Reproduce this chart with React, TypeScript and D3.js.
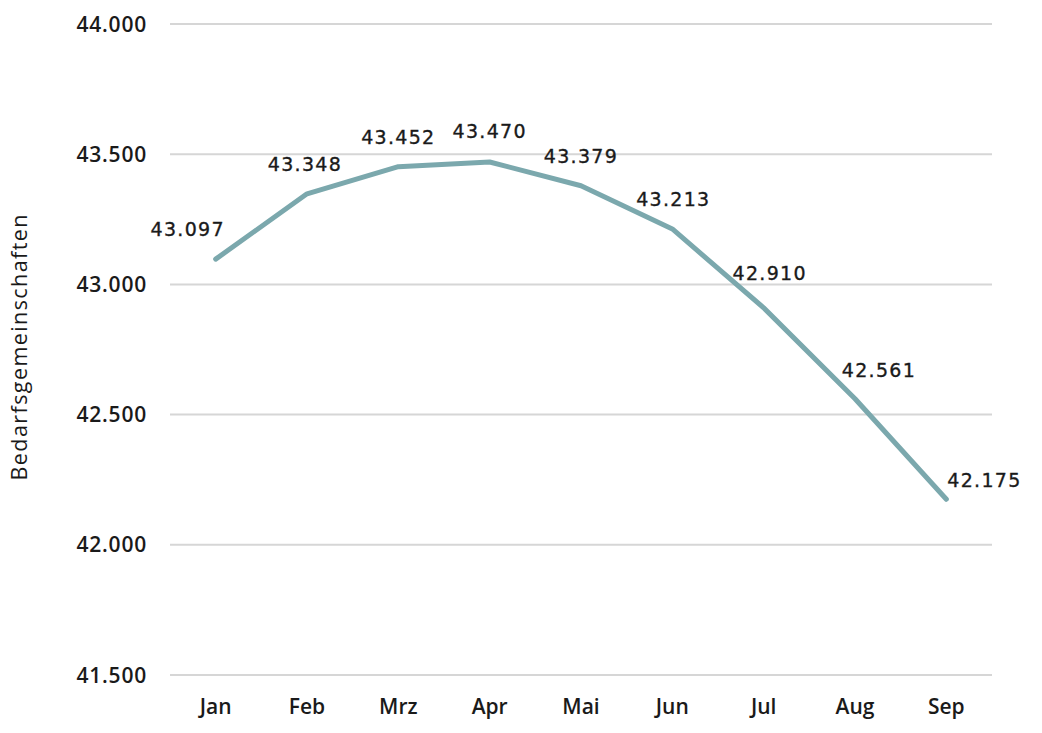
import React from "react";
import * as d3 from "d3";

// Monthly count of Bedarfsgemeinschaften
const months = ["Jan", "Feb", "Mrz", "Apr", "Mai", "Jun", "Jul", "Aug", "Sep"];
const values = [43097, 43348, 43452, 43470, 43379, 43213, 42910, 42561, 42175];
const yTicks = [41500, 42000, 42500, 43000, 43500, 44000];
const yTitle = "Bedarfsgemeinschaften";

// Placement of each value label relative to its point
const labelPlacement: { dx: number; dy: number; anchor: string }[] = [
  { dx: -28, dy: -23, anchor: "middle" },
  { dx: -2, dy: -23, anchor: "middle" },
  { dx: 0, dy: -23, anchor: "middle" },
  { dx: 0, dy: -24, anchor: "middle" },
  { dx: 0, dy: -23, anchor: "middle" },
  { dx: 1, dy: -23, anchor: "middle" },
  { dx: 6, dy: -28, anchor: "middle" },
  { dx: 24, dy: -22, anchor: "middle" },
  { dx: 1, dy: -12, anchor: "start" },
];

const W = 1042;
const H = 733;
const margin = { left: 170, right: 50, top: 24, bottom: 58 };

const fmt = (v: number) => d3.format(",")(v).replace(/,/g, ".");

export default function App() {
  const x = d3
    .scalePoint<string>()
    .domain(months)
    .range([margin.left, W - margin.right])
    .padding(0.5);
  const y = d3
    .scaleLinear()
    .domain([41500, 44000])
    .range([H - margin.bottom, margin.top]);

  const line = d3
    .line<number>()
    .x((_, i) => x(months[i]) as number)
    .y((d) => y(d));

  const tickFont = "'Open Sans', sans-serif";
  const valueFont = "'DejaVu Sans', sans-serif";

  return (
    <svg
      width={W}
      height={H}
      style={{ position: "absolute", left: 0, top: 0, background: "#fff" }}
    >
      {yTicks.map((t) => (
        <g key={t}>
          <line
            x1={margin.left}
            x2={W - margin.right}
            y1={y(t)}
            y2={y(t)}
            stroke="#d6d6d6"
            strokeWidth={2}
          />
          <text
            x={147}
            y={y(t)}
            dy="0.36em"
            textAnchor="end"
            fontFamily={tickFont}
            fontWeight={600}
            fontSize={21}
            letterSpacing={0.8}
            fill="#1a1a1a"
          >
            {fmt(t)}
          </text>
        </g>
      ))}

      {months.map((m) => (
        <text
          key={m}
          x={x(m)}
          y={714}
          textAnchor="middle"
          fontFamily={tickFont}
          fontWeight={600}
          fontSize={21}
          fill="#1a1a1a"
        >
          {m}
        </text>
      ))}

      <text
        transform={`translate(27, ${(y(44000) + y(41500)) / 2 - 2}) rotate(-90)`}
        textAnchor="middle"
        fontFamily={tickFont}
        fontWeight={500}
        fontSize={21.5}
        textLength={266}
        lengthAdjust="spacing"
        fill="#1a1a1a"
      >
        {yTitle}
      </text>

      <path
        d={line(values) ?? ""}
        fill="none"
        stroke="#7ba8ad"
        strokeWidth={5}
        strokeLinejoin="round"
        strokeLinecap="round"
      />

      {values.map((v, i) => {
        const p = labelPlacement[i];
        return (
          <text
            key={i}
            x={(x(months[i]) as number) + p.dx}
            y={y(v) + p.dy}
            textAnchor={p.anchor}
            fontFamily={valueFont}
            fontSize={19}
            letterSpacing={1.3}
            fill="#1a1a1a"
            stroke="#1a1a1a"
            strokeWidth={0.35}
          >
            {fmt(v)}
          </text>
        );
      })}
    </svg>
  );
}
